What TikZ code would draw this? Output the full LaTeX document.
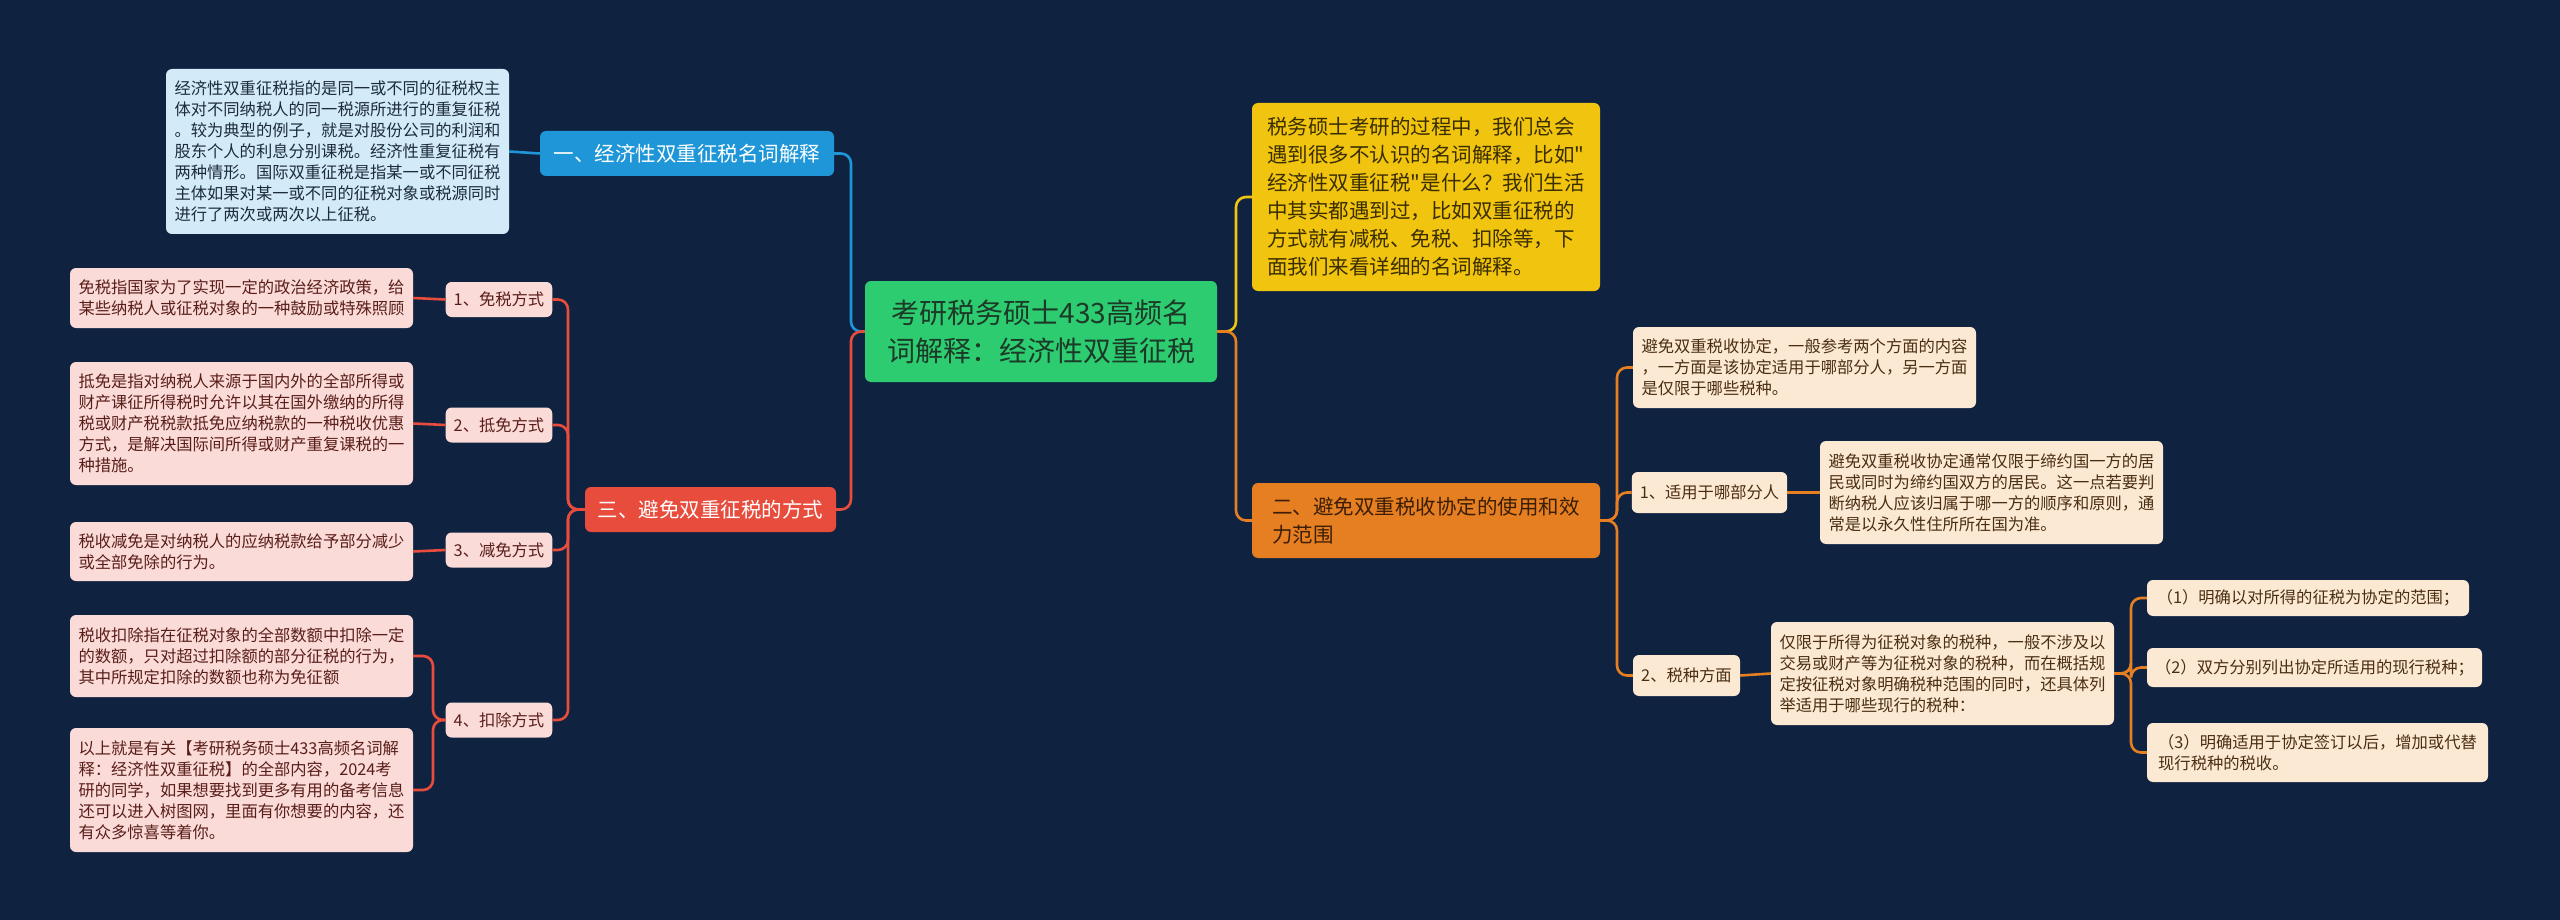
\documentclass[tikz,border=0pt]{standalone}
\usepackage{fontspec}
\setmainfont{Noto Sans CJK SC}[Ligatures=TeXOff]
\newcommand\myfs[2]{\fontsize{#1}{#2}\selectfont}
\definecolor{bg}{HTML}{0F2341}
\definecolor{cgreen}{HTML}{2ECC71}
\definecolor{tgreen}{HTML}{1B3A27}
\definecolor{cblue}{HTML}{1E96D8}
\definecolor{lblue}{HTML}{D3EBF8}
\definecolor{tblue}{HTML}{1C2C3C}
\definecolor{cred}{HTML}{E74C3C}
\definecolor{lred}{HTML}{FADBD8}
\definecolor{tred}{HTML}{5A1E1A}
\definecolor{cyellow}{HTML}{F1C40F}
\definecolor{tyellow}{HTML}{3A2E00}
\definecolor{corange}{HTML}{E67E22}
\definecolor{lorange}{HTML}{FCE9D4}
\definecolor{torange}{HTML}{4A2E12}
\definecolor{torange2}{HTML}{3A1E05}
\begin{document}
\begin{tikzpicture}[x=1pt,y=-1pt,
  box/.style={rounded corners=6pt, inner xsep=8pt, inner ysep=5pt, align=left, anchor=center},
  centerbox/.style={box, fill=cgreen, text=tgreen, align=center, font=\myfs{28}{38}},
  mainbox/.style={box, font=\myfs{20.5}{28}},
  leafbox/.style={box, font=\myfs{16.3}{21}},
  smallbox/.style={box, font=\myfs{16.3}{21}},
  conn/.style={line width=2.6pt, rounded corners=10pt},
]
\useasboundingbox (0,0) rectangle (2560,920);
\fill[bg] (0,0) rectangle (2560,920);

% center
\node[centerbox, minimum width=352pt, minimum height=101pt] (c) at (1041,331.5)
  {考研税务硕士433高频名\\词解释：经济性双重征税};

% left blue branch
\node[mainbox, fill=cblue, text=white, minimum width=294pt, minimum height=45pt] (b) at (687,153.5)
  {一、经济性双重征税名词解释};
\node[leafbox, fill=lblue, text=tblue, minimum width=343pt, minimum height=165pt] (bl) at (337.5,151.5)
  {经济性双重征税指的是同一或不同的征税权主\\体对不同纳税人的同一税源所进行的重复征税\\。较为典型的例子，就是对股份公司的利润和\\股东个人的利息分别课税。经济性重复征税有\\两种情形。国际双重征税是指某一或不同征税\\主体如果对某一或不同的征税对象或税源同时\\进行了两次或两次以上征税。};

% left red branch
\node[mainbox, fill=cred, text=white, minimum width=251pt, minimum height=45pt] (r) at (710.5,509.5)
  {三、避免双重征税的方式};
\node[smallbox, fill=lred, text=tred, minimum width=106pt, minimum height=35pt] (m1) at (499,299.5) {1、免税方式};
\node[smallbox, fill=lred, text=tred, minimum width=106pt, minimum height=35pt] (m2) at (499,425) {2、抵免方式};
\node[smallbox, fill=lred, text=tred, minimum width=106pt, minimum height=35pt] (m3) at (499,550) {3、减免方式};
\node[smallbox, fill=lred, text=tred, minimum width=106pt, minimum height=35pt] (m4) at (499,720) {4、扣除方式};

\node[leafbox, fill=lred, text=tred, minimum width=343pt, minimum height=60pt] (l1) at (241.5,298)
  {免税指国家为了实现一定的政治经济政策，给\\某些纳税人或征税对象的一种鼓励或特殊照顾};
\node[leafbox, fill=lred, text=tred, minimum width=343pt, minimum height=123pt] (l2) at (241.5,423.5)
  {抵免是指对纳税人来源于国内外的全部所得或\\财产课征所得税时允许以其在国外缴纳的所得\\税或财产税税款抵免应纳税款的一种税收优惠\\方式，是解决国际间所得或财产重复课税的一\\种措施。};
\node[leafbox, fill=lred, text=tred, minimum width=343pt, minimum height=59pt] (l3) at (241.5,551.5)
  {税收减免是对纳税人的应纳税款给予部分减少\\或全部免除的行为。};
\node[leafbox, fill=lred, text=tred, minimum width=343pt, minimum height=82pt] (l4a) at (241.5,656)
  {税收扣除指在征税对象的全部数额中扣除一定\\的数额，只对超过扣除额的部分征税的行为，\\其中所规定扣除的数额也称为免征额};
\node[leafbox, fill=lred, text=tred, minimum width=343pt, minimum height=124pt] (l4b) at (241.5,790)
  {以上就是有关【考研税务硕士433高频名词解\\释：经济性双重征税】的全部内容，2024考\\研的同学，如果想要找到更多有用的备考信息\\还可以进入树图网，里面有你想要的内容，还\\有众多惊喜等着你。};

% right yellow
\node[mainbox, fill=cyellow, text=tyellow, minimum width=348pt, minimum height=188pt] (y) at (1426,197)
  {税务硕士考研的过程中，我们总会\\遇到很多不认识的名词解释，比如"\\经济性双重征税"是什么？我们生活\\中其实都遇到过，比如双重征税的\\方式就有减税、免税、扣除等，下\\面我们来看详细的名词解释。};

% right orange
\node[mainbox, fill=corange, text=torange2, minimum width=348pt, minimum height=75pt] (o) at (1426,520.5)
  {二、避免双重税收协定的使用和效\\力范围};
\node[leafbox, fill=lorange, text=torange, minimum width=343pt, minimum height=81pt] (oa) at (1804.5,367.5)
  {避免双重税收协定，一般参考两个方面的内容\\，一方面是该协定适用于哪部分人，另一方面\\是仅限于哪些税种。};
\node[smallbox, fill=lorange, text=torange, minimum width=153pt, minimum height=41pt] (s1) at (1709.5,492.5)
  {1、适用于哪部分人};
\node[leafbox, fill=lorange, text=torange, minimum width=343pt, minimum height=103pt] (ob) at (1991.5,492.5)
  {避免双重税收协定通常仅限于缔约国一方的居\\民或同时为缔约国双方的居民。这一点若要判\\断纳税人应该归属于哪一方的顺序和原则，通\\常是以永久性住所所在国为准。};
\node[smallbox, fill=lorange, text=torange, minimum width=107pt, minimum height=41pt] (s2) at (1686.5,675.5)
  {2、税种方面};
\node[leafbox, fill=lorange, text=torange, minimum width=343pt, minimum height=103pt] (oc) at (1942.5,673.5)
  {仅限于所得为征税对象的税种，一般不涉及以\\交易或财产等为征税对象的税种，而在概括规\\定按征税对象明确税种范围的同时，还具体列\\举适用于哪些现行的税种：};
\node[leafbox, fill=lorange, text=torange, minimum width=322pt, minimum height=36pt] (c1) at (2308,598)
  {（1）明确以对所得的征税为协定的范围；};
\node[leafbox, fill=lorange, text=torange, minimum width=335pt, minimum height=39pt] (c2) at (2314.5,667.5)
  {（2）双方分别列出协定所适用的现行税种；};
\node[leafbox, fill=lorange, text=torange, minimum width=341pt, minimum height=59pt] (c3) at (2317.5,752.5)
  {（3）明确适用于协定签订以后，增加或代替\\现行税种的税收。};

% junctions
\coordinate (jL) at (851,331.5);
\coordinate (jR) at (1236,331.5);
\coordinate (jRed) at (568,509.5);
\coordinate (j4) at (433,720);
\coordinate (jO) at (1617,520.5);
\coordinate (jC) at (2131,673.5);

% connectors
\draw[conn, cblue] (c.west) -- (jL) |- (b.east);
\draw[conn, cblue] (b.west) -- (bl.east);
\draw[conn, cred] (c.west) -- (jL) |- (r.east);
\foreach \m in {m1,m2,m3,m4} \draw[conn, cred] (r.west) -- (jRed) |- (\m.east);
\draw[conn, cred] (m1.west) -- (l1.east);
\draw[conn, cred] (m2.west) -- (l2.east);
\draw[conn, cred] (m3.west) -- (l3.east);
\draw[conn, cred] (m4.west) -- (j4) |- (l4a.east);
\draw[conn, cred] (m4.west) -- (j4) |- (l4b.east);

\draw[conn, cyellow] (c.east) -- (jR) |- (y.west);
\draw[conn, corange] (c.east) -- (jR) |- (o.west);
\foreach \m in {oa,s1,s2} \draw[conn, corange] (o.east) -- (jO) |- (\m.west);
\draw[conn, corange] (s1.east) -- (ob.west);
\draw[conn, corange] (s2.east) -- (oc.west);
\foreach \m in {c1,c2,c3} \draw[conn, corange] (oc.east) -- (jC) |- (\m.west);
\end{tikzpicture}
\end{document}
